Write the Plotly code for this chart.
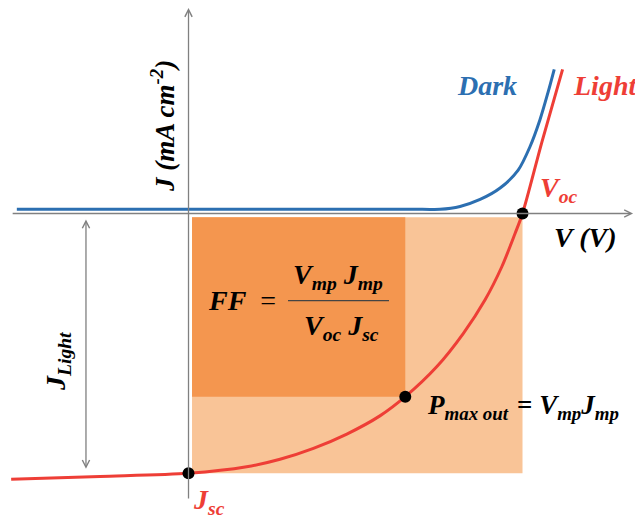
import plotly.graph_objects as go

# Schematic J-V curves of a solar cell, normalised: V in units of Voc, J in units of |Jsc|
light_v = [-0.531, -0.265, 0.0, 0.174, 0.274, 0.374, 0.474, 0.573, 0.649,
           0.743, 0.823, 0.888, 0.938, 0.978, 1.0, 1.058, 1.120]
light_j = [-1.023, -1.012, -1.0, -0.975, -0.946, -0.904, -0.849, -0.779, -0.705,
           -0.590, -0.461, -0.332, -0.205, -0.076, 0.0, 0.275, 0.555]

dark_v = [-0.514, 0.700, 0.753, 0.813, 0.873, 0.933, 0.987, 1.022, 1.052, 1.077, 1.095]
dark_j = [0.016, 0.016, 0.016, 0.027, 0.054, 0.098, 0.167, 0.256, 0.360, 0.469, 0.555]

# characteristic points
v_oc, j_sc = 1.0, -1.0
v_mp, j_mp = 0.649, -0.705
key_v = [v_oc, 0.0, v_mp]
key_j = [0.0, j_sc, j_mp]

W, H = 635, 518
X_RANGE = [-0.5644, 1.3368]
Y_RANGE = [-1.1721, 0.8218]

RED = "#EE3E36"
BLUE = "#2C6FB1"
GREY = "#808080"
DARK_ORANGE = "#F4964F"
LIGHT_ORANGE = "#F9C497"
SERIF = "Liberation Serif, Times New Roman, serif"

fig = go.Figure()

fig.add_trace(go.Scatter(x=dark_v, y=dark_j, mode="lines",
                         line=dict(color=BLUE, width=3, shape="spline", smoothing=0.8),
                         hoverinfo="skip", showlegend=False))
fig.add_trace(go.Scatter(x=light_v, y=light_j, mode="lines",
                         line=dict(color=RED, width=3, shape="spline", smoothing=0.8),
                         hoverinfo="skip", showlegend=False))
fig.add_trace(go.Scatter(x=key_v, y=key_j, mode="markers",
                         marker=dict(color="black", size=12),
                         hoverinfo="skip", showlegend=False))

# power rectangles: Voc*Jsc (light) and Vmp*Jmp (dark)
gx, gy = 0.0105, 0.0146
fig.add_shape(type="rect", x0=gx, x1=v_oc, y0=-gy, y1=j_sc, layer="below",
              line=dict(width=0), fillcolor=LIGHT_ORANGE)
fig.add_shape(type="rect", x0=gx, x1=v_mp, y0=-gy, y1=j_mp, layer="below",
              line=dict(width=0), fillcolor=DARK_ORANGE)


def px(x):
    return x / W


def py(y):
    return 1 - y / H


annotations = []


def arrow(tip, tail, both=False):
    annotations.append(dict(
        x=tip[0], y=tip[1], ax=tail[0], ay=tail[1],
        xref="x", yref="y", axref="x", ayref="y",
        text="", showarrow=True, arrowhead=5, arrowsize=1.1, arrowwidth=1.3,
        arrowcolor=GREY, standoff=0, startstandoff=0,
        arrowside="end+start" if both else "end", startarrowhead=5, startarrowsize=1.1))


# axes
arrow((1.331, 0.0), (-0.531, 0.0))
arrow((0.0, 0.791), (0.0, -1.103))
# J_Light span
arrow((-0.307, -0.983), (-0.307, -0.017), both=True)


def text(s, x, y, size=28, color="black", xanchor="left", yanchor="middle", angle=0):
    annotations.append(dict(
        text=s, x=px(x), y=py(y), xref="paper", yref="paper",
        xanchor=xanchor, yanchor=yanchor, showarrow=False, textangle=angle,
        font=dict(family=SERIF, size=size, color=color)))


def point_label(s, v, j, dx, dy, size=28, color="black"):
    annotations.append(dict(
        text=s, x=v, y=j, xref="x", yref="y", xshift=dx, yshift=dy,
        xanchor="left", yanchor="middle", showarrow=False,
        font=dict(family=SERIF, size=size, color=color)))


text("<b><i>Dark</i></b>", 455, 85, color=BLUE)
text("<b><i>Light</i></b>", 571, 85, color=RED)
text("<b><i>V (V)</i></b>", 552, 238)
text("<b><i>J (mA cm<sup>-2</sup>)</i></b>", 163, 126, size=27, xanchor="center", angle=-90)
text("<b><i>J<sub>Light</sub></i></b>", 57, 362, size=28, xanchor="center", angle=-90)

point_label("<b><i>V<sub>oc</sub></i></b>", v_oc, 0.0, 15, 24, color=RED)
point_label("<b><i>J<sub>sc</sub></i></b>", 0.0, j_sc, 2, -28, color=RED)
point_label("<b><i>P<sub>max out</sub></i></b>", v_mp, j_mp, 20, -10, size=27)
point_label("<b>=</b> <b><i>V<sub>mp</sub>J<sub>mp</sub></i></b>", v_mp, j_mp, 110, -10, size=27)

# fill factor formula
text("<b><i>FF</i></b>  =", 206, 300)
text("<b><i>V<sub>mp</sub> J<sub>mp</sub></i></b>", 338, 276, xanchor="center")
text("<b><i>V<sub>oc</sub> J<sub>sc</sub></i></b>", 341, 327, xanchor="center")
fig.add_shape(type="line", xref="paper", yref="paper",
              x0=px(288), x1=px(389), y0=py(300.7), y1=py(300.7),
              line=dict(color="#444444", width=1.2))

fig.update_layout(
    width=W, height=H,
    margin=dict(l=0, r=0, t=0, b=0),
    paper_bgcolor="white", plot_bgcolor="white",
    xaxis=dict(range=X_RANGE, visible=False, fixedrange=True),
    yaxis=dict(range=Y_RANGE, visible=False, fixedrange=True),
    annotations=annotations,
    showlegend=False,
)

fig.write_html("out.html")
